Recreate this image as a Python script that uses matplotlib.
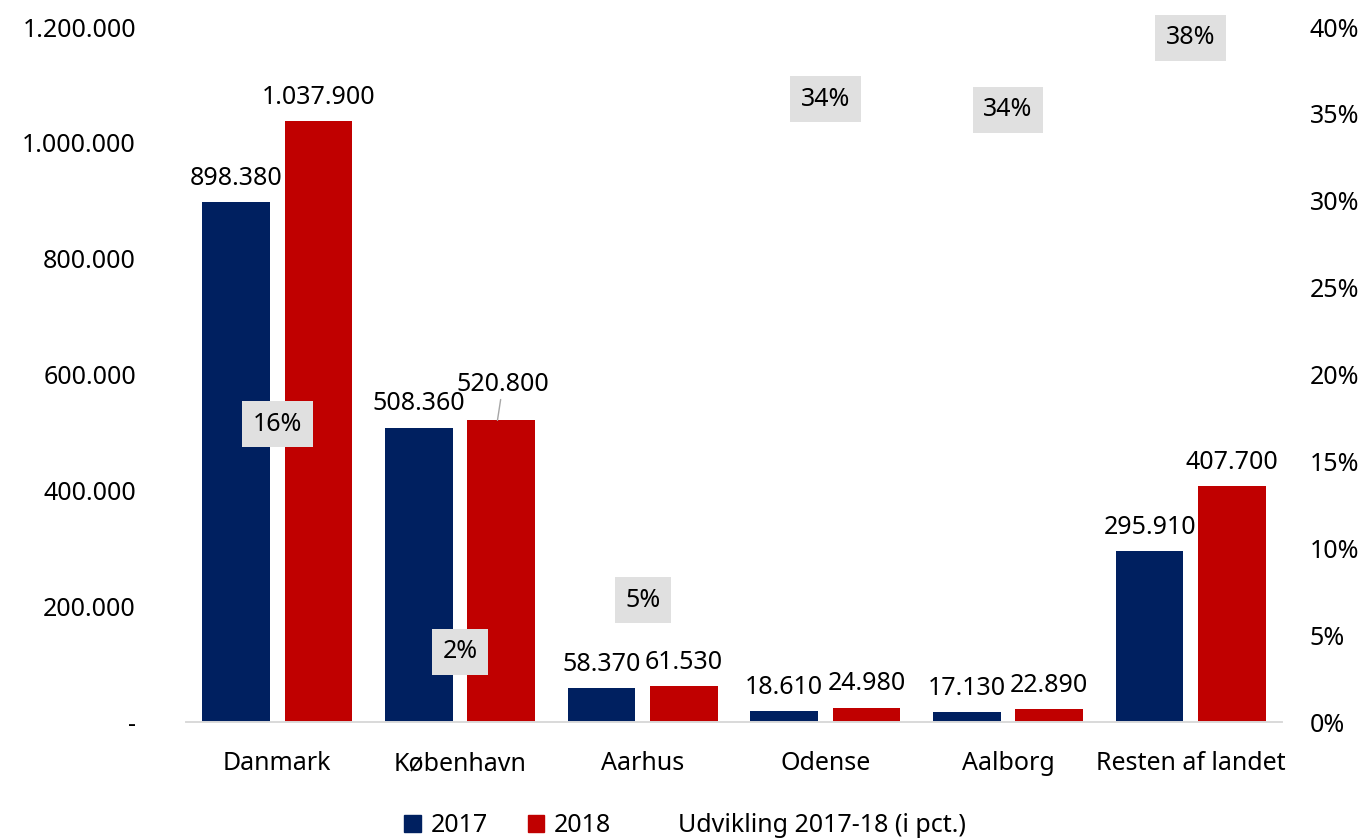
import matplotlib
matplotlib.use('Agg')
import matplotlib.pyplot as plt
from matplotlib.patches import Patch
from matplotlib.lines import Line2D
from matplotlib.ticker import FuncFormatter, MultipleLocator
import numpy as np

plt.rcParams['font.family'] = ['Noto Sans', 'DejaVu Sans']
plt.rcParams['font.size'] = 18

categories = ['Danmark', 'København', 'Aarhus', 'Odense', 'Aalborg', 'Resten af landet']
values_2017 = [898380, 508360, 58370, 18610, 17130, 295910]
values_2018 = [1037900, 520800, 61530, 24980, 22890, 407700]
growth_pct = [15.53, 2.45, 5.41, 34.23, 33.63, 37.78]

navy = '#002060'
red = '#C00000'
boxgray = '#E0E0E0'

def dk(v):
    return '{:,.0f}'.format(v).replace(',', '.')

fig = plt.figure(figsize=(13.7, 8.4), dpi=100)
ax = fig.add_axes([186/1370, 1 - 722/840, (1282 - 186)/1370, (722 - 27)/840])
ax2 = ax.twinx()

x = np.arange(len(categories))
w = 0.37
gap = 0.04
b1 = ax.bar(x - w/2 - gap, values_2017, w, color=navy, zorder=2)
b2 = ax.bar(x + w/2 + gap, values_2018, w, color=red, zorder=2)

ax.set_xlim(-0.5, len(categories) - 0.5)
ax.set_ylim(0, 1200000)
ax.yaxis.set_major_locator(MultipleLocator(200000))
ax.yaxis.set_major_formatter(FuncFormatter(lambda v, p: '-' if v == 0 else dk(v)))
ax.set_xticks(x)
ax.set_xticklabels(categories)
ax.tick_params(axis='y', length=0, pad=36)
ax.tick_params(axis='x', length=0, pad=21)

ax2.set_ylim(0, 40)
ax2.yaxis.set_major_locator(MultipleLocator(5))
ax2.yaxis.set_major_formatter(FuncFormatter(lambda v, p: '%d%%' % round(v)))
ax2.tick_params(axis='y', length=0, pad=20)

for a in (ax, ax2):
    for s in ['top', 'left', 'right']:
        a.spines[s].set_visible(False)
    a.spines['bottom'].set_color('#D9D9D9')
    a.spines['bottom'].set_linewidth(1.2)

# value labels above bars
for bars, vals in ((b1, values_2017), (b2, values_2018)):
    for i, (r, v) in enumerate(zip(bars, vals)):
        cx = r.get_x() + r.get_width() / 2
        if bars is b2 and categories[i] == 'København':
            ax.annotate(dk(v), xy=(cx - 0.02, v), xytext=(4, 17), textcoords='offset points',
                        ha='center', va='bottom',
                        arrowprops=dict(arrowstyle='-', color='#A6A6A6', lw=1,
                                        shrinkA=0, shrinkB=0))
        else:
            ax.annotate(dk(v), xy=(cx, v), xytext=(0, 8), textcoords='offset points',
                        ha='center', va='bottom')

# growth series (invisible markers, boxed labels)
ax2.plot(x, growth_pct, linestyle='none', marker='none')
for xi, p in zip(x, growth_pct):
    ax2.annotate('%.0f%%' % p, xy=(xi, p), xytext=(0, 20), textcoords='offset points',
                 ha='center', va='center', zorder=5,
                 bbox=dict(boxstyle='square,pad=0.42', fc=boxgray, ec='none'))

handles = [Patch(color=navy, label='2017'), Patch(color=red, label='2018'),
           Line2D([], [], linestyle='none', label='Udvikling 2017-18 (i pct.)')]
fig.legend(handles=handles, loc='lower center', bbox_to_anchor=(0.5, -0.025), ncol=3,
           frameon=False, handlelength=0.65, handleheight=0.65, handletextpad=0.4,
           columnspacing=1.6)

fig.savefig('out.png', dpi=100)
